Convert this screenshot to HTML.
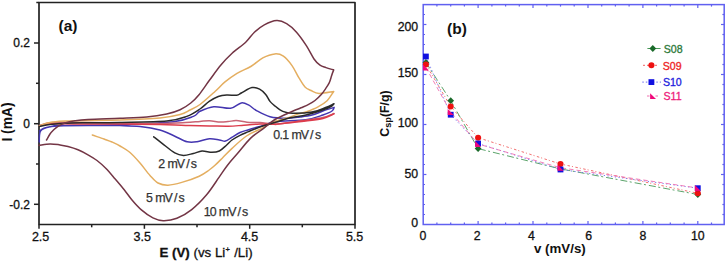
<!DOCTYPE html>
<html><head><meta charset="utf-8"><style>
html,body{margin:0;padding:0;background:#fff;width:727px;height:262px;overflow:hidden}
svg{display:block}
</style></head><body>
<svg width="727" height="262" viewBox="0 0 727 262">
<rect x="39" y="2.5" width="316" height="222" fill="none" stroke="#222" stroke-width="1.7" stroke-linejoin="round"/>
<line x1="36.3" y1="2.5" x2="39" y2="2.5" stroke="#222" stroke-width="1.5"/>
<line x1="34" y1="43" x2="39" y2="43" stroke="#222" stroke-width="1.5"/>
<line x1="34" y1="123.7" x2="39" y2="123.7" stroke="#222" stroke-width="1.5"/>
<line x1="34" y1="204.3" x2="39" y2="204.3" stroke="#222" stroke-width="1.5"/>
<line x1="36" y1="83.3" x2="39" y2="83.3" stroke="#222" stroke-width="1.5"/>
<line x1="36" y1="164" x2="39" y2="164" stroke="#222" stroke-width="1.5"/>
<line x1="39" y1="224.5" x2="39" y2="228.8" stroke="#222" stroke-width="1.5"/>
<line x1="144.4" y1="224.5" x2="144.4" y2="228.8" stroke="#222" stroke-width="1.5"/>
<line x1="249.7" y1="224.5" x2="249.7" y2="228.8" stroke="#222" stroke-width="1.5"/>
<line x1="355" y1="224.5" x2="355" y2="228.8" stroke="#222" stroke-width="1.5"/>
<line x1="91.7" y1="224.5" x2="91.7" y2="227.3" stroke="#222" stroke-width="1.5"/>
<line x1="197" y1="224.5" x2="197" y2="227.3" stroke="#222" stroke-width="1.5"/>
<line x1="302.3" y1="224.5" x2="302.3" y2="227.3" stroke="#222" stroke-width="1.5"/>
<path d="M39.5,131.0 C40.2,130.6 42.2,129.0 44.0,128.3 C45.8,127.6 47.6,127.2 50.0,126.7 C52.4,126.2 52.0,125.8 58.3,125.6 C64.6,125.4 77.7,125.4 88.0,125.3 C98.3,125.2 105.8,125.4 120.0,124.8 C134.2,124.2 161.2,123.1 173.4,121.7 C185.6,120.3 189.0,118.1 193.4,116.4 C197.8,114.7 196.6,112.9 200.0,111.3 C203.4,109.7 208.7,107.2 213.8,106.7 C218.9,106.2 226.0,108.9 230.6,108.3 C235.2,107.7 238.2,103.4 241.3,102.9 C244.4,102.4 246.4,103.9 248.9,105.2 C251.4,106.5 253.0,108.7 256.5,110.6 C260.0,112.5 265.0,115.4 270.0,116.7 C275.0,118.0 281.4,118.2 286.4,118.2 C291.4,118.2 295.7,117.5 300.0,117.0 C304.3,116.5 308.2,116.1 312.0,115.1 C315.8,114.1 319.2,112.3 322.9,111.0 C326.6,109.7 332.2,108.0 334.1,107.4 M334.1,107.4 C333.8,108.0 333.9,109.7 332.0,111.0 C330.1,112.3 327.3,113.5 322.9,115.0 C318.5,116.5 313.7,118.6 305.8,119.7 C297.9,120.8 282.7,120.6 275.6,121.6 C268.5,122.6 267.8,124.2 263.3,125.5 C258.8,126.8 252.5,128.5 248.6,129.7 C244.7,130.9 242.8,131.2 240.0,132.5 C237.2,133.8 234.1,136.0 231.7,137.4 C229.3,138.8 227.6,140.7 225.5,141.1 C223.4,141.5 222.0,140.3 219.3,139.9 C216.6,139.5 213.1,138.4 209.4,138.7 C205.7,139.0 200.7,141.3 197.0,141.8 C193.3,142.3 190.8,142.7 187.1,141.8 C183.4,140.9 179.3,138.2 174.8,136.2 C170.3,134.2 165.7,131.6 159.9,130.0 C154.1,128.4 146.8,127.2 140.1,126.5 C133.4,125.8 128.7,125.8 120.0,125.6 C111.3,125.4 98.3,125.5 88.0,125.6 C77.7,125.6 64.6,125.7 58.3,125.9 C52.0,126.1 52.4,126.4 50.0,126.8 C47.6,127.2 45.6,127.8 44.0,128.5 C42.4,129.2 41.2,129.9 40.5,131.0 C39.8,132.1 39.7,133.2 39.5,135.0 C39.3,136.8 39.3,140.8 39.3,142.0" fill="none" stroke="#4436b0" stroke-width="1.5" stroke-linejoin="round" stroke-linecap="round"/>
<path d="M39.5,125.5 C40.6,125.2 43.8,124.0 46.0,123.5 C48.2,123.0 49.8,122.7 53.0,122.5 C56.2,122.3 59.2,122.3 65.0,122.3 C70.8,122.3 78.8,122.4 88.0,122.5 C97.2,122.6 108.0,122.6 120.0,122.8 C132.0,123.0 149.1,123.6 160.0,123.6 C170.9,123.6 178.8,123.0 185.5,122.6 C192.2,122.2 196.0,121.7 200.0,121.4 C204.0,121.1 206.1,120.7 209.5,120.8 C212.9,120.9 217.1,121.9 220.2,122.0 C223.3,122.1 225.3,121.8 228.0,121.6 C230.7,121.4 233.1,120.5 236.3,120.6 C239.5,120.7 243.1,121.9 247.0,122.2 C250.9,122.5 255.3,122.3 260.0,122.6 C264.7,122.9 270.0,123.9 275.0,123.9 C280.0,123.9 284.9,123.0 290.0,122.4 C295.1,121.8 300.3,121.0 305.8,120.2 C311.3,119.4 318.2,118.7 322.9,117.6 C327.6,116.5 332.1,114.2 334.0,113.5" fill="none" stroke="#c86474" stroke-width="1.5" stroke-linejoin="round" stroke-linecap="round"/>
<path d="M39.5,126.0 C40.6,125.8 43.7,124.9 46.0,124.5 C48.3,124.1 50.0,123.9 53.2,123.8 C56.4,123.7 59.2,123.8 65.0,123.8 C70.8,123.8 78.8,124.1 88.0,124.1 C97.2,124.1 108.0,123.9 120.0,124.0 C132.0,124.1 149.1,124.4 160.0,124.6 C170.9,124.8 177.2,125.2 185.5,125.4 C193.8,125.6 202.4,125.8 209.5,125.9 C216.6,126.0 222.8,126.3 228.2,126.2 C233.5,126.1 236.3,125.8 241.6,125.4 C246.9,125.0 254.4,124.2 260.0,124.0 C265.6,123.8 270.0,124.6 275.0,124.3 C280.0,124.0 284.9,123.0 290.0,122.4 C295.1,121.8 300.3,121.3 305.8,120.6 C311.3,119.9 318.2,119.3 322.9,118.2 C327.6,117.1 332.1,114.6 334.0,113.9 M334.0,113.9 C332.1,114.7 327.6,117.2 322.9,118.4 C318.2,119.6 311.3,120.2 305.8,120.9 C300.3,121.6 295.1,122.1 290.0,122.7 C284.9,123.3 277.5,124.2 275.0,124.5" fill="none" stroke="#dc3c4c" stroke-width="1.5" stroke-linejoin="round" stroke-linecap="round"/>
<path d="M39.5,125.8 C40.6,125.4 43.8,124.1 46.0,123.5 C48.2,122.9 49.8,122.4 53.0,122.0 C56.2,121.6 59.2,121.2 65.0,121.0 C70.8,120.8 78.8,120.7 88.0,120.5 C97.2,120.3 108.0,120.4 120.0,120.0 C132.0,119.6 150.0,118.9 160.0,118.0 C170.0,117.1 175.1,115.8 180.1,114.5 C185.1,113.2 186.7,111.7 190.0,110.0 C193.3,108.3 195.8,107.6 200.0,104.5 C204.2,101.4 210.8,95.3 215.0,91.5 C219.2,87.7 221.3,84.9 225.0,81.9 C228.7,78.9 232.7,75.9 237.0,73.3 C241.3,70.7 246.5,69.1 250.8,66.5 C255.1,63.9 258.8,60.0 262.8,57.9 C266.8,55.8 271.4,54.2 274.8,53.9 C278.2,53.6 280.5,54.2 283.4,56.2 C286.3,58.2 289.4,62.0 292.0,65.6 C294.6,69.2 296.6,74.0 298.8,77.6 C301.0,81.2 303.0,84.8 305.0,87.0 C307.0,89.2 308.7,89.4 311.0,90.5 C313.3,91.6 315.2,93.3 319.0,93.5 C322.8,93.7 331.2,91.8 333.7,91.5 M333.7,91.5 C332.6,93.0 329.7,98.2 327.1,100.7 C324.5,103.2 321.6,104.9 318.0,106.8 C314.4,108.7 309.0,110.8 305.8,112.0 C302.6,113.2 301.9,112.9 298.7,113.9 C295.5,114.9 290.5,116.9 286.4,118.2 C282.3,119.5 278.4,120.1 274.2,121.8 C270.0,123.5 265.8,126.2 261.2,128.6 C256.6,131.0 251.4,132.7 246.5,136.0 C241.6,139.3 235.7,145.0 231.8,148.6 C227.9,152.2 225.7,154.7 222.9,157.5 C220.1,160.3 217.3,163.2 215.0,165.3 C212.7,167.4 211.8,168.2 209.2,170.0 C206.6,171.8 203.8,174.1 199.2,176.2 C194.6,178.3 187.0,180.9 181.8,182.4 C176.6,183.9 172.0,185.1 168.0,185.2 C164.0,185.3 161.0,184.6 158.0,183.0 C155.0,181.4 153.0,178.8 150.0,175.5 C147.0,172.2 143.3,166.8 140.0,163.0 C136.7,159.2 133.3,155.3 130.0,152.5 C126.7,149.7 123.0,147.8 120.0,146.0 C117.0,144.2 114.7,143.2 112.0,142.0 C109.3,140.8 107.3,140.2 104.0,139.0 C100.7,137.8 94.2,135.7 92.3,135.0" fill="none" stroke="#e4ae60" stroke-width="1.5" stroke-linejoin="round" stroke-linecap="round"/>
<path d="M39.5,126.5 C41.2,126.2 45.8,125.0 50.0,124.5 C54.2,124.0 58.7,123.5 65.0,123.2 C71.3,122.9 78.8,122.9 88.0,122.8 C97.2,122.7 106.9,122.7 120.0,122.4 C133.1,122.1 155.6,122.0 166.7,121.0 C177.8,120.0 181.2,118.4 186.8,116.4 C192.4,114.4 196.3,111.5 200.0,109.0 C203.7,106.5 206.1,103.5 209.2,101.4 C212.2,99.3 215.4,97.6 218.3,96.5 C221.2,95.4 223.6,95.2 226.7,95.0 C229.8,94.8 234.3,95.6 236.7,95.3 C239.1,95.0 238.8,94.3 241.3,93.0 C243.9,91.7 248.9,88.2 252.0,87.6 C255.1,87.0 257.3,88.0 259.6,89.2 C261.9,90.4 264.0,92.5 265.7,94.5 C267.4,96.5 268.6,99.6 270.0,101.4 C271.4,103.2 272.1,103.6 274.2,105.3 C276.3,107.0 279.7,110.1 282.8,111.4 C285.9,112.7 287.7,113.2 292.6,113.3 C297.5,113.4 306.5,113.1 312.0,112.1 C317.5,111.1 321.9,108.9 325.6,107.5 C329.3,106.1 332.6,104.3 334.0,103.7 M334.0,103.7 C333.5,104.2 332.8,105.5 331.0,106.5 C329.2,107.5 327.2,108.4 323.0,109.8 C318.8,111.2 311.5,113.7 306.0,115.0 C300.5,116.3 295.1,116.6 290.0,117.8 C284.9,119.0 280.4,120.8 275.6,122.3 C270.8,123.8 265.7,125.0 261.2,126.5 C256.7,128.1 252.1,130.1 248.6,131.6 C245.1,133.1 242.8,133.9 240.0,135.3 C237.2,136.7 234.2,138.4 232.0,140.0 C229.8,141.6 228.8,143.2 226.7,145.0 C224.6,146.8 221.8,149.8 219.3,151.0 C216.8,152.2 214.8,152.3 211.9,152.3 C209.0,152.3 205.1,150.8 202.0,151.0 C198.9,151.2 196.4,152.8 193.3,153.5 C190.2,154.2 186.5,155.5 183.4,155.4 C180.3,155.3 178.3,154.9 174.8,152.9 C171.3,150.9 165.9,146.3 162.4,143.6 C158.9,140.9 155.1,137.9 153.7,136.8" fill="none" stroke="#2a2a2a" stroke-width="1.5" stroke-linejoin="round" stroke-linecap="round"/>
<path d="M46.5,140.0 C47.1,139.0 48.8,135.8 50.0,134.0 C51.2,132.2 52.7,130.8 54.0,129.5 C55.3,128.2 56.2,127.4 58.0,126.3 C59.8,125.2 62.2,123.9 65.0,123.0 C67.8,122.1 71.2,121.4 75.0,120.8 C78.8,120.2 80.5,119.9 88.0,119.5 C95.5,119.1 110.2,118.7 120.0,118.3 C129.8,117.9 138.9,117.7 146.7,117.0 C154.5,116.3 161.1,115.2 166.7,114.0 C172.3,112.8 176.1,111.5 180.1,109.7 C184.1,107.9 187.7,105.5 190.8,103.0 C193.9,100.5 195.6,98.9 198.8,95.0 C202.0,91.1 206.1,84.8 209.8,79.8 C213.5,74.8 217.2,69.4 220.9,65.0 C224.6,60.6 228.0,57.1 232.1,53.3 C236.2,49.5 242.0,45.7 245.7,42.2 C249.4,38.7 251.3,35.1 254.4,32.2 C257.5,29.3 260.6,26.7 264.3,24.8 C268.0,22.9 273.0,20.8 276.7,20.6 C280.4,20.4 283.3,21.7 286.6,23.6 C289.9,25.5 293.2,28.5 296.5,32.2 C299.8,35.9 303.6,41.4 306.5,45.9 C309.4,50.4 311.8,55.8 314.0,59.0 C316.2,62.2 318.0,63.8 320.0,65.2 C322.0,66.6 323.7,66.8 326.0,67.6 C328.3,68.4 332.4,69.5 333.7,69.9 M333.7,69.9 C333.3,70.9 332.2,73.8 331.5,76.0 C330.8,78.2 330.2,80.8 329.2,82.9 C328.2,85.0 326.8,86.9 325.5,88.8 C324.2,90.7 323.2,92.3 321.5,94.3 C319.8,96.2 317.2,98.8 315.0,100.5 C312.8,102.2 310.5,103.4 308.2,104.6 C305.9,105.8 303.2,106.8 301.0,107.8 C298.8,108.8 297.2,109.3 294.8,110.3 C292.4,111.3 289.8,112.4 286.4,114.0 C283.0,115.6 278.0,117.6 274.2,120.0 C270.4,122.4 267.2,125.6 263.3,128.6 C259.4,131.6 254.9,134.1 250.7,138.1 C246.5,142.1 241.9,148.3 238.1,152.8 C234.3,157.3 230.9,160.9 227.7,165.0 C224.5,169.1 222.5,172.4 219.0,177.4 C215.5,182.4 211.2,189.4 206.6,194.8 C202.0,200.2 196.6,205.7 191.7,209.6 C186.8,213.5 181.7,216.5 176.9,218.3 C172.2,220.2 167.2,220.8 163.2,220.7 C159.2,220.6 156.5,219.7 152.9,217.9 C149.3,216.1 144.9,212.9 141.4,209.9 C137.9,206.9 134.8,203.3 132.0,200.0 C129.2,196.7 127.2,193.5 124.4,190.0 C121.6,186.5 118.3,182.6 115.2,179.0 C112.1,175.4 109.0,171.6 106.0,168.5 C103.0,165.4 100.0,162.8 97.0,160.5 C94.0,158.2 91.2,156.6 88.0,154.8 C84.8,153.0 81.3,151.2 78.0,149.8 C74.7,148.4 71.0,147.3 68.0,146.5 C65.0,145.7 63.0,145.3 60.0,144.9 C57.0,144.5 53.5,143.8 50.0,143.9 C46.5,144.0 40.7,145.1 38.8,145.3" fill="none" stroke="#733545" stroke-width="1.5" stroke-linejoin="round" stroke-linecap="round"/>
<text x="40.6" y="240.9" font-size="12.5" text-anchor="middle" font-weight="normal" fill="#111" stroke="#111" stroke-width="0.3" font-family="Liberation Sans, sans-serif" >2.5</text>
<text x="142.2" y="240.9" font-size="12.5" text-anchor="middle" font-weight="normal" fill="#111" stroke="#111" stroke-width="0.3" font-family="Liberation Sans, sans-serif" >3.5</text>
<text x="249.6" y="240.9" font-size="12.5" text-anchor="middle" font-weight="normal" fill="#111" stroke="#111" stroke-width="0.3" font-family="Liberation Sans, sans-serif" >4.5</text>
<text x="354.6" y="240.9" font-size="12.5" text-anchor="middle" font-weight="normal" fill="#111" stroke="#111" stroke-width="0.3" font-family="Liberation Sans, sans-serif" >5.5</text>
<text x="30" y="47.3" font-size="12" text-anchor="end" font-weight="normal" fill="#111" stroke="#111" stroke-width="0.3" font-family="Liberation Sans, sans-serif" >0.2</text>
<text x="30" y="128.0" font-size="12" text-anchor="end" font-weight="normal" fill="#111" stroke="#111" stroke-width="0.3" font-family="Liberation Sans, sans-serif" >0</text>
<text x="30" y="208.60000000000002" font-size="12" text-anchor="end" font-weight="normal" fill="#111" stroke="#111" stroke-width="0.3" font-family="Liberation Sans, sans-serif" >-0.2</text>
<text x="159.5" y="257.3" font-size="13.3" text-anchor="start" font-weight="normal" fill="#111" stroke="#111" stroke-width="0.3" font-family="Liberation Sans, sans-serif" ><tspan font-weight="bold">E (V)</tspan><tspan> (vs Li</tspan><tspan font-size="7.5" dy="-5" dx="0.3">+</tspan><tspan dy="5" dx="0.5"> /Li)</tspan></text>
<text transform="translate(12.3,122) rotate(-90)" font-size="13.8" font-weight="bold" text-anchor="middle" fill="#111" font-family="Liberation Sans, sans-serif">I (mA)</text>
<text x="58.5" y="31.0" font-size="15.5" text-anchor="start" font-weight="bold" fill="#111" font-family="Liberation Sans, sans-serif" >(a)</text>
<text x="276.7 281.3 285.8 296.6 304.9 311.8 318.0" y="138.8" font-size="12.4" text-anchor="middle" fill="#333" stroke="#333" stroke-width="0.25" font-family="Liberation Sans, sans-serif">0.1mV/s</text>
<text x="161.8 172.6 181.0 188.1 193.8" y="167.8" font-size="12.4" text-anchor="middle" fill="#333" stroke="#333" stroke-width="0.25" font-family="Liberation Sans, sans-serif">2mV/s</text>
<text x="149.5 160.3 168.7 175.7 181.5" y="201.7" font-size="12.4" text-anchor="middle" fill="#333" stroke="#333" stroke-width="0.25" font-family="Liberation Sans, sans-serif">5mV/s</text>
<text x="207.2 213.1 224.0 232.4 239.3 245.2" y="215.6" font-size="12.4" text-anchor="middle" fill="#333" stroke="#333" stroke-width="0.25" font-family="Liberation Sans, sans-serif">10mV/s</text>
<rect x="423.2" y="4.6" width="301.00000000000006" height="219.9" fill="none" stroke="#6060f0" stroke-width="1.5"/>
<line x1="436.9" y1="224.5" x2="436.9" y2="222.5" stroke="#6060f0" stroke-width="1.2"/>
<line x1="436.9" y1="4.6" x2="436.9" y2="6.6" stroke="#6060f0" stroke-width="1.2"/>
<line x1="450.7" y1="224.5" x2="450.7" y2="222.5" stroke="#6060f0" stroke-width="1.2"/>
<line x1="450.7" y1="4.6" x2="450.7" y2="6.6" stroke="#6060f0" stroke-width="1.2"/>
<line x1="464.4" y1="224.5" x2="464.4" y2="222.5" stroke="#6060f0" stroke-width="1.2"/>
<line x1="464.4" y1="4.6" x2="464.4" y2="6.6" stroke="#6060f0" stroke-width="1.2"/>
<line x1="478.1" y1="224.5" x2="478.1" y2="221.0" stroke="#6060f0" stroke-width="1.2"/>
<line x1="478.1" y1="4.6" x2="478.1" y2="8.1" stroke="#6060f0" stroke-width="1.2"/>
<line x1="491.9" y1="224.5" x2="491.9" y2="222.5" stroke="#6060f0" stroke-width="1.2"/>
<line x1="491.9" y1="4.6" x2="491.9" y2="6.6" stroke="#6060f0" stroke-width="1.2"/>
<line x1="505.6" y1="224.5" x2="505.6" y2="222.5" stroke="#6060f0" stroke-width="1.2"/>
<line x1="505.6" y1="4.6" x2="505.6" y2="6.6" stroke="#6060f0" stroke-width="1.2"/>
<line x1="519.3" y1="224.5" x2="519.3" y2="222.5" stroke="#6060f0" stroke-width="1.2"/>
<line x1="519.3" y1="4.6" x2="519.3" y2="6.6" stroke="#6060f0" stroke-width="1.2"/>
<line x1="533.0" y1="224.5" x2="533.0" y2="221.0" stroke="#6060f0" stroke-width="1.2"/>
<line x1="533.0" y1="4.6" x2="533.0" y2="8.1" stroke="#6060f0" stroke-width="1.2"/>
<line x1="546.8" y1="224.5" x2="546.8" y2="222.5" stroke="#6060f0" stroke-width="1.2"/>
<line x1="546.8" y1="4.6" x2="546.8" y2="6.6" stroke="#6060f0" stroke-width="1.2"/>
<line x1="560.5" y1="224.5" x2="560.5" y2="222.5" stroke="#6060f0" stroke-width="1.2"/>
<line x1="560.5" y1="4.6" x2="560.5" y2="6.6" stroke="#6060f0" stroke-width="1.2"/>
<line x1="574.2" y1="224.5" x2="574.2" y2="222.5" stroke="#6060f0" stroke-width="1.2"/>
<line x1="574.2" y1="4.6" x2="574.2" y2="6.6" stroke="#6060f0" stroke-width="1.2"/>
<line x1="588.0" y1="224.5" x2="588.0" y2="221.0" stroke="#6060f0" stroke-width="1.2"/>
<line x1="588.0" y1="4.6" x2="588.0" y2="8.1" stroke="#6060f0" stroke-width="1.2"/>
<line x1="601.7" y1="224.5" x2="601.7" y2="222.5" stroke="#6060f0" stroke-width="1.2"/>
<line x1="601.7" y1="4.6" x2="601.7" y2="6.6" stroke="#6060f0" stroke-width="1.2"/>
<line x1="615.4" y1="224.5" x2="615.4" y2="222.5" stroke="#6060f0" stroke-width="1.2"/>
<line x1="615.4" y1="4.6" x2="615.4" y2="6.6" stroke="#6060f0" stroke-width="1.2"/>
<line x1="629.1" y1="224.5" x2="629.1" y2="222.5" stroke="#6060f0" stroke-width="1.2"/>
<line x1="629.1" y1="4.6" x2="629.1" y2="6.6" stroke="#6060f0" stroke-width="1.2"/>
<line x1="642.9" y1="224.5" x2="642.9" y2="221.0" stroke="#6060f0" stroke-width="1.2"/>
<line x1="642.9" y1="4.6" x2="642.9" y2="8.1" stroke="#6060f0" stroke-width="1.2"/>
<line x1="656.6" y1="224.5" x2="656.6" y2="222.5" stroke="#6060f0" stroke-width="1.2"/>
<line x1="656.6" y1="4.6" x2="656.6" y2="6.6" stroke="#6060f0" stroke-width="1.2"/>
<line x1="670.3" y1="224.5" x2="670.3" y2="222.5" stroke="#6060f0" stroke-width="1.2"/>
<line x1="670.3" y1="4.6" x2="670.3" y2="6.6" stroke="#6060f0" stroke-width="1.2"/>
<line x1="684.1" y1="224.5" x2="684.1" y2="222.5" stroke="#6060f0" stroke-width="1.2"/>
<line x1="684.1" y1="4.6" x2="684.1" y2="6.6" stroke="#6060f0" stroke-width="1.2"/>
<line x1="697.8" y1="224.5" x2="697.8" y2="221.0" stroke="#6060f0" stroke-width="1.2"/>
<line x1="697.8" y1="4.6" x2="697.8" y2="8.1" stroke="#6060f0" stroke-width="1.2"/>
<line x1="711.5" y1="224.5" x2="711.5" y2="222.5" stroke="#6060f0" stroke-width="1.2"/>
<line x1="711.5" y1="4.6" x2="711.5" y2="6.6" stroke="#6060f0" stroke-width="1.2"/>
<line x1="423.2" y1="214.5" x2="425.0" y2="214.5" stroke="#6060f0" stroke-width="1.2"/>
<line x1="724.2" y1="214.5" x2="722.4000000000001" y2="214.5" stroke="#6060f0" stroke-width="1.2"/>
<line x1="423.2" y1="204.5" x2="425.0" y2="204.5" stroke="#6060f0" stroke-width="1.2"/>
<line x1="724.2" y1="204.5" x2="722.4000000000001" y2="204.5" stroke="#6060f0" stroke-width="1.2"/>
<line x1="423.2" y1="194.5" x2="425.0" y2="194.5" stroke="#6060f0" stroke-width="1.2"/>
<line x1="724.2" y1="194.5" x2="722.4000000000001" y2="194.5" stroke="#6060f0" stroke-width="1.2"/>
<line x1="423.2" y1="184.5" x2="425.0" y2="184.5" stroke="#6060f0" stroke-width="1.2"/>
<line x1="724.2" y1="184.5" x2="722.4000000000001" y2="184.5" stroke="#6060f0" stroke-width="1.2"/>
<line x1="423.2" y1="174.5" x2="426.4" y2="174.5" stroke="#6060f0" stroke-width="1.2"/>
<line x1="724.2" y1="174.5" x2="721.0" y2="174.5" stroke="#6060f0" stroke-width="1.2"/>
<line x1="423.2" y1="164.5" x2="425.0" y2="164.5" stroke="#6060f0" stroke-width="1.2"/>
<line x1="724.2" y1="164.5" x2="722.4000000000001" y2="164.5" stroke="#6060f0" stroke-width="1.2"/>
<line x1="423.2" y1="154.5" x2="425.0" y2="154.5" stroke="#6060f0" stroke-width="1.2"/>
<line x1="724.2" y1="154.5" x2="722.4000000000001" y2="154.5" stroke="#6060f0" stroke-width="1.2"/>
<line x1="423.2" y1="144.5" x2="425.0" y2="144.5" stroke="#6060f0" stroke-width="1.2"/>
<line x1="724.2" y1="144.5" x2="722.4000000000001" y2="144.5" stroke="#6060f0" stroke-width="1.2"/>
<line x1="423.2" y1="134.5" x2="425.0" y2="134.5" stroke="#6060f0" stroke-width="1.2"/>
<line x1="724.2" y1="134.5" x2="722.4000000000001" y2="134.5" stroke="#6060f0" stroke-width="1.2"/>
<line x1="423.2" y1="124.5" x2="426.4" y2="124.5" stroke="#6060f0" stroke-width="1.2"/>
<line x1="724.2" y1="124.5" x2="721.0" y2="124.5" stroke="#6060f0" stroke-width="1.2"/>
<line x1="423.2" y1="114.5" x2="425.0" y2="114.5" stroke="#6060f0" stroke-width="1.2"/>
<line x1="724.2" y1="114.5" x2="722.4000000000001" y2="114.5" stroke="#6060f0" stroke-width="1.2"/>
<line x1="423.2" y1="104.5" x2="425.0" y2="104.5" stroke="#6060f0" stroke-width="1.2"/>
<line x1="724.2" y1="104.5" x2="722.4000000000001" y2="104.5" stroke="#6060f0" stroke-width="1.2"/>
<line x1="423.2" y1="94.5" x2="425.0" y2="94.5" stroke="#6060f0" stroke-width="1.2"/>
<line x1="724.2" y1="94.5" x2="722.4000000000001" y2="94.5" stroke="#6060f0" stroke-width="1.2"/>
<line x1="423.2" y1="84.5" x2="425.0" y2="84.5" stroke="#6060f0" stroke-width="1.2"/>
<line x1="724.2" y1="84.5" x2="722.4000000000001" y2="84.5" stroke="#6060f0" stroke-width="1.2"/>
<line x1="423.2" y1="74.5" x2="426.4" y2="74.5" stroke="#6060f0" stroke-width="1.2"/>
<line x1="724.2" y1="74.5" x2="721.0" y2="74.5" stroke="#6060f0" stroke-width="1.2"/>
<line x1="423.2" y1="64.5" x2="425.0" y2="64.5" stroke="#6060f0" stroke-width="1.2"/>
<line x1="724.2" y1="64.5" x2="722.4000000000001" y2="64.5" stroke="#6060f0" stroke-width="1.2"/>
<line x1="423.2" y1="54.5" x2="425.0" y2="54.5" stroke="#6060f0" stroke-width="1.2"/>
<line x1="724.2" y1="54.5" x2="722.4000000000001" y2="54.5" stroke="#6060f0" stroke-width="1.2"/>
<line x1="423.2" y1="44.5" x2="425.0" y2="44.5" stroke="#6060f0" stroke-width="1.2"/>
<line x1="724.2" y1="44.5" x2="722.4000000000001" y2="44.5" stroke="#6060f0" stroke-width="1.2"/>
<line x1="423.2" y1="34.5" x2="425.0" y2="34.5" stroke="#6060f0" stroke-width="1.2"/>
<line x1="724.2" y1="34.5" x2="722.4000000000001" y2="34.5" stroke="#6060f0" stroke-width="1.2"/>
<line x1="423.2" y1="24.5" x2="426.4" y2="24.5" stroke="#6060f0" stroke-width="1.2"/>
<line x1="724.2" y1="24.5" x2="721.0" y2="24.5" stroke="#6060f0" stroke-width="1.2"/>
<line x1="423.2" y1="14.5" x2="425.0" y2="14.5" stroke="#6060f0" stroke-width="1.2"/>
<line x1="724.2" y1="14.5" x2="722.4000000000001" y2="14.5" stroke="#6060f0" stroke-width="1.2"/>
<polyline points="425.9,62.5 450.7,100.7 478.1,148.6 560.5,168.9 697.8,194.5" fill="none" stroke="#4a9a5a" stroke-width="0.9" stroke-dasharray="7,2.5,2,3"/>
<polyline points="425.9,64.5 450.7,106.5 478.1,137.7 560.5,164.0 697.8,193.3" fill="none" stroke="#f06060" stroke-width="0.9" stroke-dasharray="2.5,2,1,2.5"/>
<polyline points="425.9,56.5 450.7,114.7 478.1,143.5 560.5,169.5 697.8,188.2" fill="none" stroke="#6a6af0" stroke-width="0.9" stroke-dasharray="1.2,2.5"/>
<polyline points="425.9,67.5 450.7,112.0 478.1,144.0 560.5,167.8 697.8,188.0" fill="none" stroke="#f070b0" stroke-width="0.9" stroke-dasharray="4.5,3"/>
<path d="M425.9,59.1 L429.3,62.5 L425.9,65.9 L422.5,62.5 Z" fill="#1a6a2a"/>
<path d="M450.7,97.3 L454.1,100.7 L450.7,104.1 L447.3,100.7 Z" fill="#1a6a2a"/>
<path d="M478.1,145.2 L481.5,148.6 L478.1,152.0 L474.7,148.6 Z" fill="#1a6a2a"/>
<path d="M560.5,165.5 L563.9,168.9 L560.5,172.3 L557.1,168.9 Z" fill="#1a6a2a"/>
<path d="M697.8,191.1 L701.2,194.5 L697.8,197.9 L694.4,194.5 Z" fill="#1a6a2a"/>
<circle cx="425.9" cy="64.5" r="3.05" fill="#ee1111"/>
<circle cx="450.7" cy="106.5" r="3.05" fill="#ee1111"/>
<circle cx="478.1" cy="137.7" r="3.05" fill="#ee1111"/>
<circle cx="560.5" cy="164.0" r="3.05" fill="#ee1111"/>
<circle cx="697.8" cy="193.3" r="3.05" fill="#ee1111"/>
<rect x="423.0" y="53.6" width="5.8" height="5.8" fill="#1010e0"/>
<rect x="447.8" y="111.8" width="5.8" height="5.8" fill="#1010e0"/>
<rect x="475.2" y="140.6" width="5.8" height="5.8" fill="#1010e0"/>
<rect x="557.6" y="166.6" width="5.8" height="5.8" fill="#1010e0"/>
<rect x="694.9" y="185.3" width="5.8" height="5.8" fill="#1010e0"/>
<path d="M422.9,64.5 L422.9,70.5 L428.9,70.5 Z" fill="#f0087a"/>
<path d="M447.7,109.0 L447.7,115.0 L453.7,115.0 Z" fill="#f0087a"/>
<path d="M475.1,141.0 L475.1,147.0 L481.1,147.0 Z" fill="#f0087a"/>
<path d="M557.5,164.8 L557.5,170.8 L563.5,170.8 Z" fill="#f0087a"/>
<path d="M694.8,185.0 L694.8,191.0 L700.8,191.0 Z" fill="#f0087a"/>
<line x1="647.4" y1="48.5" x2="660.6" y2="48.5" stroke="#4a9a5a" stroke-width="1"/>
<path d="M652.8,45.1 L656.2,48.5 L652.8,51.9 L649.4,48.5 Z" fill="#1a6a2a"/>
<text x="663.8" y="53.0" font-size="10.6" text-anchor="start" font-weight="normal" fill="#2e7a3a" stroke="#2e7a3a" stroke-width="0.3" font-family="Liberation Sans, sans-serif" >S08</text>
<line x1="643" y1="65.3" x2="658" y2="65.3" stroke="#f06060" stroke-width="1" stroke-dasharray="2,2"/>
<circle cx="651.4" cy="65.3" r="3.05" fill="#ee1111"/>
<text x="662.7" y="69.8" font-size="10.6" text-anchor="start" font-weight="normal" fill="#ee2222" stroke="#ee2222" stroke-width="0.3" font-family="Liberation Sans, sans-serif" >S09</text>
<line x1="642.3" y1="82.1" x2="661" y2="82.1" stroke="#6a6af0" stroke-width="1" stroke-dasharray="1.5,2"/>
<rect x="648.5" y="79.2" width="5.8" height="5.8" fill="#1010e0"/>
<text x="662.9" y="85.9" font-size="10.6" text-anchor="start" font-weight="normal" fill="#2222dd" stroke="#2222dd" stroke-width="0.3" font-family="Liberation Sans, sans-serif" >S10</text>
<line x1="647" y1="96" x2="660.4" y2="96" stroke="#f070b0" stroke-width="1" stroke-dasharray="2.5,6"/>
<path d="M650.1,93.3 L650.1,99 L656,99 Z" fill="#f0087a"/>
<text x="663.5" y="100.1" font-size="10.6" text-anchor="start" font-weight="normal" fill="#ee1a7a" stroke="#ee1a7a" stroke-width="0.3" font-family="Liberation Sans, sans-serif" >S11</text>
<text x="418.2" y="227.4" font-size="12.3" text-anchor="end" font-weight="normal" fill="#111" stroke="#111" stroke-width="0.3" font-family="Liberation Sans, sans-serif" >0</text>
<text x="418.2" y="178.1" font-size="12.3" text-anchor="end" font-weight="normal" fill="#111" stroke="#111" stroke-width="0.3" font-family="Liberation Sans, sans-serif" >50</text>
<text x="418.2" y="127.1" font-size="12.3" text-anchor="end" font-weight="normal" fill="#111" stroke="#111" stroke-width="0.3" font-family="Liberation Sans, sans-serif" >100</text>
<text x="418.2" y="77.19999999999999" font-size="12.3" text-anchor="end" font-weight="normal" fill="#111" stroke="#111" stroke-width="0.3" font-family="Liberation Sans, sans-serif" >150</text>
<text x="418.2" y="30.8" font-size="12.3" text-anchor="end" font-weight="normal" fill="#111" stroke="#111" stroke-width="0.3" font-family="Liberation Sans, sans-serif" >200</text>
<text x="422.9" y="240.2" font-size="12.3" text-anchor="middle" font-weight="normal" fill="#111" stroke="#111" stroke-width="0.3" font-family="Liberation Sans, sans-serif" >0</text>
<text x="477.12" y="240.2" font-size="12.3" text-anchor="middle" font-weight="normal" fill="#111" stroke="#111" stroke-width="0.3" font-family="Liberation Sans, sans-serif" >2</text>
<text x="531.54" y="240.2" font-size="12.3" text-anchor="middle" font-weight="normal" fill="#111" stroke="#111" stroke-width="0.3" font-family="Liberation Sans, sans-serif" >4</text>
<text x="588.76" y="240.2" font-size="12.3" text-anchor="middle" font-weight="normal" fill="#111" stroke="#111" stroke-width="0.3" font-family="Liberation Sans, sans-serif" >6</text>
<text x="642.88" y="240.2" font-size="12.3" text-anchor="middle" font-weight="normal" fill="#111" stroke="#111" stroke-width="0.3" font-family="Liberation Sans, sans-serif" >8</text>
<text x="697.8" y="240.2" font-size="12.3" text-anchor="middle" font-weight="normal" fill="#111" stroke="#111" stroke-width="0.3" font-family="Liberation Sans, sans-serif" >10</text>
<text x="534" y="253.3" font-size="13.3" text-anchor="start" font-weight="bold" fill="#111" font-family="Liberation Sans, sans-serif" >v (mV/s)</text>
<text transform="translate(389,113.6) rotate(-90)" font-size="12.3" font-weight="bold" text-anchor="middle" fill="#111" font-family="Liberation Sans, sans-serif">C<tspan font-size="9.2" dy="2">sp</tspan><tspan dy="-2">(F/g)</tspan></text>
<text x="447" y="34" font-size="15.5" text-anchor="start" font-weight="bold" fill="#111" font-family="Liberation Sans, sans-serif" >(b)</text>
</svg>
</body></html>
